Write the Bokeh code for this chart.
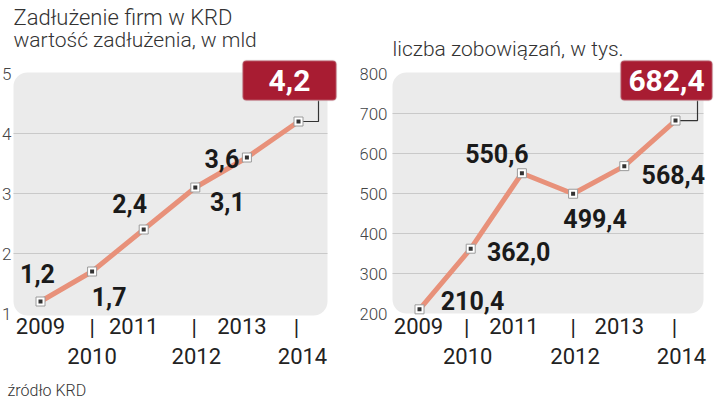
from bokeh.plotting import figure
from bokeh.layouts import row
from bokeh.models import Range1d, BoxAnnotation
from bokeh.embed import file_html
from bokeh.resources import INLINE
from bokeh.core.properties import value

# ---------------- data ----------------
years = [2009, 2010, 2011, 2012, 2013, 2014]
debt_bn = [1.2, 1.7, 2.4, 3.1, 3.6, 4.2]
claims_k = [210.4, 362.0, 550.6, 499.4, 568.4, 682.4]
left_yticks = [1, 2, 3, 4, 5]
right_yticks = [200, 300, 400, 500, 600, 700, 800]
title_main = "Zadłużenie firm w KRD"
subtitle_left = "wartość zadłużenia, w mld"
subtitle_right = "liczba zobowiązań, w tys."
source_note = "źródło KRD"

# ---------------- style ----------------
W, H = 360, 399
LINE = "#e8917a"
BG = "#ebebeb"
GRID = "#c9c9c9"
RED = "#a81c32"
THIN = "Roboto Light"
REG = "Roboto"


def fmt(v):
    return f"{v:.1f}".replace(".", ",")


def make_panel(vals, yticks, cfg):
    xp0, xp1 = cfg["xpx"]
    yp_top, yp_bot = cfg["ypx"]
    sx = (xp1 - xp0) / (years[-1] - years[0])
    x_start = years[0] - xp0 / sx
    x_end = x_start + W / sx
    ymin, ymax = yticks[0], yticks[-1]
    sy = (yp_bot - yp_top) / (ymax - ymin)
    y_end = ymax + yp_top / sy
    y_start = y_end - H / sy

    def X(px):
        return x_start + px / sx

    def Y(py):
        return y_end - py / sy

    p = figure(width=W, height=H, output_backend="svg", toolbar_location=None,
               x_axis_location=None, y_axis_location=None,
               x_range=Range1d(x_start, x_end), y_range=Range1d(y_start, y_end),
               min_border=0, outline_line_color=None,
               background_fill_color="white", border_fill_color="white")
    p.xgrid.visible = False
    p.ygrid.visible = False

    bl, br, bt, bb = cfg["bg"]
    p.add_layout(BoxAnnotation(left=X(bl), right=X(br), top=Y(bt), bottom=Y(bb),
                               fill_color=BG, fill_alpha=1, line_color=None,
                               border_radius=14, level="underlay"))

    grid_vals = yticks[1:-1]
    n = len(grid_vals)
    p.segment(x0=[X(bl)] * n, x1=[X(br)] * n, y0=grid_vals, y1=grid_vals,
              line_color=GRID, line_width=1)

    # y tick labels
    p.text(x=[X(cfg["ytick_x"])] * len(yticks), y=yticks, text=[str(t) for t in yticks],
           text_align="right", text_baseline="middle",
           text_font=value(THIN), text_font_size="17px", text_color="#444")

    # x year labels (staggered on two rows)
    odd = years[0::2]
    even = years[1::2]
    common = dict(text_align="center", text_baseline="middle",
                  text_font=value(REG), text_font_size="22px", text_color="#222")
    p.text(x=odd, y=[Y(cfg["row1"])] * len(odd), text=[str(y) for y in odd],
           x_offset=cfg["odd_dx"], **common)
    p.text(x=even, y=[Y(cfg["row1"] + 2)] * len(even), text=["|"] * len(even),
           x_offset=cfg["pipe_dx"], **common)
    p.text(x=even, y=[Y(cfg["row2"])] * len(even), text=[str(y) for y in even],
           x_offset=cfg["even_dx"], **common)

    # leader line to the callout
    xl, yl = years[-1], vals[-1]
    lx, ly = cfg["leader"]
    p.line(x=[xl, xl + lx / sx, xl + lx / sx], y=[yl, yl, yl + ly / sy],
           line_color="#333", line_width=1.2)

    p.line(years, vals, line_color=LINE, line_width=5)
    p.scatter(years, vals, marker="square", size=9, fill_color="white",
              line_color="#9a9a9a", line_width=1)
    p.scatter(years, vals, marker="square", size=4, fill_color="#333", line_color=None)

    labels = [fmt(v) for v in vals]
    p.text(x=years[:-1], y=vals[:-1], text=labels[:-1],
           x_offset=cfg["lab_dx"], y_offset=cfg["lab_dy"],
           text_align="center", text_baseline="middle",
           text_font=value(REG), text_font_style="bold", text_font_size="25px",
           text_color="#1a1a1a")

    cl, cr, ct, cb = cfg["callout"]
    p.add_layout(BoxAnnotation(left=xl + cl / sx, right=xl + cr / sx,
                               top=yl + ct / sy, bottom=yl + cb / sy,
                               fill_color=RED, fill_alpha=1, line_color="#d6d6d6",
                               line_width=2, border_radius=4, level="annotation"))
    r = p.text(x=[xl], y=[yl], text=[labels[-1]],
               x_offset=[(cl + cr) / 2], y_offset=[-(ct + cb) / 2],
               text_align="center", text_baseline="middle",
               text_font=value(REG), text_font_style="bold", text_font_size="30px",
               text_color="white")
    r.level = "overlay"

    for txt, (px, py, size) in cfg["titles"]:
        p.text(x=[X(px)], y=[Y(py)], text=[txt], text_align="left",
               text_baseline="middle", text_font=value(THIN),
               text_font_size=size, text_color="#333")
    return p


left_cfg = dict(
    xpx=(40, 298), ypx=(73, 313), bg=(13, 327, 72, 315),
    ytick_x=11,
    row1=325, row2=355,
    odd_dx=[0, -10, -5], pipe_dx=[0, -1, -2], even_dx=[0, 1, 4],
    leader=(20, 21),
    lab_dx=[-3, 17, -14, 32, -25], lab_dy=[-28, 25, -26, 14, 1],
    callout=(-56, 38, 61, 21),
    titles=[(title_main, (13, 17, "22px")), (subtitle_left, (13, 39, "21px")),
            (source_note, (7, 390, "16px"))],
)

right_cfg = dict(
    xpx=(59, 315), ypx=(73, 313), bg=(32, 343, 72, 313),
    ytick_x=27,
    row1=325, row2=355,
    odd_dx=[-1, -8, -5], pipe_dx=[-4, 0, -1], even_dx=[-3, 2, 6],
    leader=(22, 20),
    lab_dx=[53, 48, -25, 22, 49], lab_dy=[-9, 3, -20, 25, 8],
    callout=(-55, 37, 60, 20),
    titles=[(subtitle_right, (32, 48, "21px"))],
)

left = make_panel(debt_bn, left_yticks, left_cfg)
right = make_panel(claims_k, right_yticks, right_cfg)

layout = row(left, right, spacing=0)
open("out.html", "w").write(file_html(layout, INLINE))
